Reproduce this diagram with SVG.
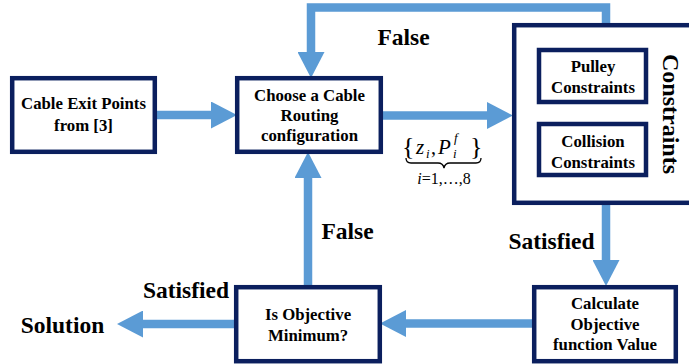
<svg xmlns="http://www.w3.org/2000/svg" width="689" height="364" viewBox="0 0 689 364">
<style>
.box{fill:#fff;stroke:#0b1f5e;stroke-width:4.5}
.t{font-family:'Liberation Serif','Tinos','Times New Roman','DejaVu Serif',serif;font-weight:bold;fill:#000;text-anchor:middle}
.bt{font-size:16.8px}
.lbl{font-size:23.5px}
.arr{fill:none;stroke:#5b9bd5;stroke-width:8.5;stroke-linejoin:miter}
.m{font-family:'Liberation Serif','Tinos','Times New Roman','DejaVu Serif',serif;font-style:italic;fill:#000}
</style>
<defs>
<marker id="ah" markerUnits="userSpaceOnUse" markerWidth="26" markerHeight="27" viewBox="0 0 26 27" refX="1" refY="13.5" orient="auto">
<path d="M0,0 L26,13.5 L0,27 z" fill="#5b9bd5"/>
</marker>
</defs>
<rect width="689" height="364" fill="#fff"/>

<g id="connectors">
<line class="arr" x1="157" y1="115" x2="212" y2="115" marker-end="url(#ah)"/>
<line class="arr" x1="383" y1="115.5" x2="488" y2="115.5" marker-end="url(#ah)"/>
<path class="arr" d="M606,24 L606,7.5 L311,7.5 L311,53" marker-end="url(#ah)"/>
<line class="arr" x1="606" y1="205" x2="606" y2="261" marker-end="url(#ah)"/>
<line class="arr" x1="532" y1="323.5" x2="405" y2="323.5" marker-end="url(#ah)"/>
<line class="arr" x1="308" y1="285" x2="308" y2="177" marker-end="url(#ah)"/>
<line class="arr" x1="234" y1="324" x2="142" y2="324" marker-end="url(#ah)"/>
</g>

<g id="cable-exit">
<rect class="box" x="12.2" y="78.2" width="142.6" height="73.6"/>
<text class="t bt" x="83.5" y="109" font-family="Liberation Serif">Cable Exit Points</text>
<text class="t bt" x="83.5" y="131">from [3]</text>
</g>

<g id="choose">
<rect class="box" x="237.2" y="78.2" width="143.6" height="73.6"/>
<text class="t bt" x="309.5" y="100.5">Choose a Cable</text>
<text class="t bt" x="309.5" y="120.5">Routing</text>
<text class="t bt" x="309.5" y="140.5">configuration</text>
</g>

<g id="constraints">
<rect class="box" x="514.2" y="25.2" width="200" height="177.6"/>
<text class="t" style="font-size:24px" transform="translate(663,114) rotate(90)">Constraints</text>
</g>

<g id="pulley">
<rect class="box" x="539" y="50" width="107" height="52"/>
<text class="t bt" x="593" y="72">Pulley</text>
<text class="t bt" x="593" y="93">Constraints</text>
</g>

<g id="collision">
<rect class="box" x="539" y="124" width="107" height="51"/>
<text class="t bt" x="593" y="147">Collision</text>
<text class="t bt" x="593" y="168">Constraints</text>
</g>

<g id="calculate">
<rect class="box" x="534.2" y="287.2" width="141.6" height="74"/>
<text class="t bt" x="605" y="309">Calculate</text>
<text class="t bt" x="605" y="329.5">Objective</text>
<text class="t bt" x="605" y="350">function Value</text>
</g>

<g id="is-objective">
<rect class="box" x="236.2" y="287.2" width="143.6" height="74"/>
<text class="t bt" x="308" y="320">Is Objective</text>
<text class="t bt" x="308" y="340.5">Minimum?</text>
</g>

<g id="labels">
<text class="t lbl" x="403.5" y="45">False</text>
<text class="t lbl" x="347.5" y="239">False</text>
<text class="t lbl" x="551.5" y="249">Satisfied</text>
<text class="t lbl" x="186" y="298">Satisfied</text>
<text class="t lbl" x="62.5" y="333">Solution</text>
</g>

<g id="set-label">
<text class="m" style="font-style:normal;font-size:26px" x="402" y="155">{</text>
<text class="m" style="font-size:21px" x="416" y="154">z</text>
<text class="m" style="font-size:13px" x="426" y="158">i</text>
<text class="m" style="font-style:normal;font-size:20px" x="431" y="154">,</text>
<text class="m" style="font-size:21px" x="438" y="154">P</text>
<text class="m" style="font-size:13px" x="454" y="142">f</text>
<text class="m" style="font-size:13px" x="453" y="158">i</text>
<text class="m" style="font-style:normal;font-size:26px" x="470" y="155">}</text>
<path d="M406,158 q0,5 5,5 L438,163 q5,0 6,5 q1,-5 6,-5 L476,163 q5,0 5,-5" fill="none" stroke="#000" stroke-width="1.3"/>
<text class="m" style="font-size:16px" x="444" y="184" text-anchor="middle">i<tspan font-style="normal">=1,…,8</tspan></text>
</g>
</svg>
